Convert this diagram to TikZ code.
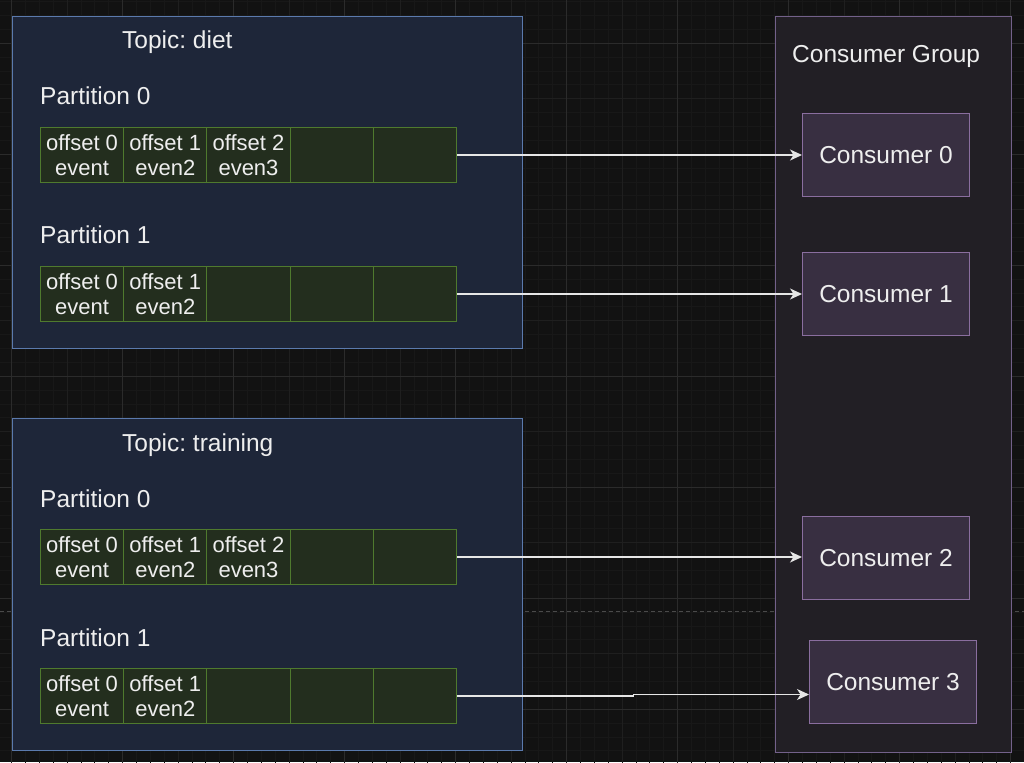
\documentclass[tikz,border=0pt]{standalone}
\usepackage{fontspec}
\setmainfont{Liberation Sans}
\usetikzlibrary{positioning, arrows.meta}
\frenchspacing
\definecolor{bgcol}{HTML}{121212}
\definecolor{gridminor}{HTML}{181818}
\definecolor{gridmid}{HTML}{1F1F1F}
\definecolor{gridmajor}{HTML}{2B2B2B}
\definecolor{dashcol}{HTML}{4A4A4A}
\definecolor{topicfill}{HTML}{1E2639}
\definecolor{topicline}{HTML}{5B7AAD}
\definecolor{cellfill}{HTML}{232E1E}
\definecolor{cellline}{HTML}{4F7A2E}
\definecolor{groupfill}{HTML}{221F25}
\definecolor{groupline}{HTML}{73618A}
\definecolor{consfill}{HTML}{382F41}
\definecolor{consline}{HTML}{8A6E9F}
\definecolor{txt}{HTML}{EEEEEE}
\definecolor{arrowcol}{HTML}{E6E6E6}
\tikzset{
    x=1pt, y=-1pt,
    topic/.style={draw=topicline, fill=topicfill, line width=1pt, anchor=north west,
        minimum width=510pt, minimum height=332pt, inner sep=0pt},
    cell/.style={draw=cellline, fill=cellfill, line width=1pt, anchor=north west,
        minimum width=83.2pt, minimum height=55pt, inner sep=0pt, align=center,
        text=txt, font=\fontsize{22}{25}\selectfont},
    heading/.style={text=txt, font=\fontsize{24.5}{29}\selectfont, inner sep=0pt},
    group/.style={draw=groupline, fill=groupfill, line width=1pt, anchor=north west,
        minimum width=235.5pt, minimum height=735.5pt, inner sep=0pt},
    consumer/.style={draw=consline, fill=consfill, line width=1pt, anchor=north west,
        minimum width=167pt, minimum height=83pt, inner sep=0pt,
        text=txt, font=\fontsize{24.5}{29}\selectfont},
    flow/.style={draw=arrowcol, line width=1.3pt,
        -{Stealth[length=12pt, width=11pt, inset=3.5pt]}}
}
\begin{document}
\begin{tikzpicture}
    % canvas and grid
    \fill[bgcol] (0,0) rectangle (1024,762);
    \useasboundingbox (0,0) rectangle (1024,762);
    \begin{scope}
        \clip (0,0) rectangle (1024,762);
        \begin{scope}[shift={(11.7,43.3)}]
            \draw[gridminor, line width=1pt, step=13.875pt] (-111,-111) grid (1024,762);
            \draw[gridmid, line width=1pt, step=55.5pt] (-111,-111) grid (1024,762);
            \draw[gridmajor, line width=1pt, step=111pt] (-111,-111) grid (1024,762);
        \end{scope}
        \draw[dashcol, line width=1pt, dash pattern=on 4pt off 3pt] (0,611.3) -- (1024,611.3);
    \end{scope}

    % topics
    \node[topic] (diet) at (12,16) {};
    \node[topic] (training) at (12,418) {};
    \node[heading, anchor=base west] (diet-title) at (122,49) {Topic: diet};
    \node[heading, anchor=base west] (training-title) at (122,451) {Topic: training};
    \foreach \row/\y/\n in {d0/105/0, d1/243/1, t0/507/0, t1/646/1}
        \node[heading, anchor=base west] (\row-lab) at (40,\y) {Partition \n};

    % partitions
    \foreach \row/\y in {d0/127, t0/529}
        \foreach \i/\txt in {0/{offset 0\\event}, 1/{offset 1\\even2}, 2/{offset 2\\even3}, 3/{}, 4/{}}
            \node[cell] (\row-\i) at ({40+83.2*\i},\y) {\txt};
    \foreach \row/\y in {d1/266, t1/668}
        \foreach \i/\txt in {0/{offset 0\\event}, 1/{offset 1\\even2}, 2/{}, 3/{}, 4/{}}
            \node[cell] (\row-\i) at ({40+83.2*\i},\y) {\txt};

    % consumer group
    \node[group] (grp) at (775,16) {};
    \node[heading, anchor=base west] (grp-title) at (792,63) {Consumer Group};
    \node[consumer] (c0) at (802,113) {Consumer 0};
    \node[consumer] (c1) at (802,252) {Consumer 1};
    \node[consumer] (c2) at (802,516) {Consumer 2};
    \node[consumer] (c3) at (809,640) {Consumer 3};
    \coordinate (c3-in) at ([yshift=-12.5pt]c3.west);

    \draw[flow] (d0-4.east) -- (c0.west);
    \draw[flow] (d1-4.east) -- (c1.west);
    \draw[flow] (t0-4.east) -- (t0-4.east -| c2.west);
    \draw[flow] (t1-4.east) -- ++(176.5,0) |- (c3-in);
\end{tikzpicture}
\end{document}
